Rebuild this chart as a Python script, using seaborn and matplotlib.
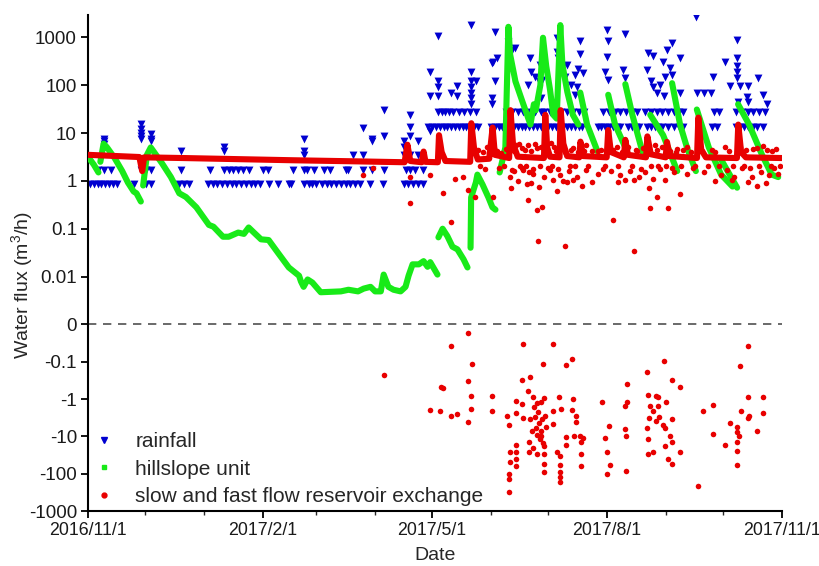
"""Hillslope water fluxes: rainfall, hillslope unit and reservoir exchange."""

import matplotlib
matplotlib.use("Agg")
import matplotlib.dates as mdates
import matplotlib.pyplot as plt
import numpy as np
import pandas as pd
import seaborn as sns
from matplotlib.lines import Line2D
from matplotlib.ticker import FixedLocator, FuncFormatter, NullLocator

START = pd.Timestamp("2016-11-01")
END = pd.Timestamp("2017-11-01")

# days since 2016/11/1 for each rain level that repeats (one tip = 0.85 m3/h)
rain_tip1_days = [1, 3, 5, 7, 9, 11, 13, 15, 24, 30.5, 33, 48, 50.5, 53, 63, 65.5, 68,
                  70.5, 73, 75.5, 78, 80.5, 83, 85.5, 88, 90.5, 95, 100, 105.5, 107,
                  113.5, 116, 118, 120, 123, 125.5, 128, 130.5, 133, 135.5, 138, 140.5,
                  143, 148.5, 155, 166, 168.5, 171, 173.5, 176]
rain_tip2_days = [5.3, 8.4, 12, 28, 30.5, 33, 49, 64, 71.5, 74, 76.5, 79, 81.5, 84.5, 92,
                  94.5, 108, 113.5, 115, 119, 124, 127.5, 135.5, 137, 144.5, 149.5, 155.5,
                  167, 169.5, 172, 176]
rain_tip16_days = [179, 181, 183, 185, 187, 189, 191, 193, 195, 197, 199, 201, 203, 205,
                   212, 214, 216, 218, 220, 222, 224, 226, 228, 230, 232, 234, 236, 238,
                   240, 242, 244, 246, 248, 250, 252, 254, 256, 258, 260, 268, 270, 272,
                   274, 276, 278, 280, 284, 286, 288, 290, 294, 296, 298, 300, 302, 305,
                   308, 311, 313, 328, 331, 341, 343, 345, 347, 350, 352, 355]
rain_tip32_days = [184, 186, 188, 190, 192, 195, 198, 201, 204, 220, 223, 226, 229, 232,
                   235, 238, 240, 243, 246, 249, 252, 255, 258, 261, 271, 274, 277, 280,
                   283, 286, 289, 293, 296, 299, 302, 305, 308, 311, 313, 329, 332, 341,
                   344, 347, 350, 353, 356]
rain_levels = [0.85, 1.7, 13.6, 27.2]

# remaining rainfall intensities (day, m3/h)
rain_storms = [
    (8.4, 7.6), (8.4, 6.8), (8.4, 5.9), (28, 15.3), (28, 11.9), (28, 10.2), (28, 8.5),
    (28, 7.6), (33, 9.4), (33, 7.6), (33, 6.8), (49, 4.25), (71.5, 5.1), (71.5, 4.25),
    (113.5, 7.6), (113.5, 4.25), (113.5, 3.4), (139.5, 3.4), (144.5, 12.75), (144.5, 3.4),
    (149.5, 7.6), (149.5, 6.8), (155.5, 30), (155.5, 8.5), (166, 6.8), (166, 5.1),
    (166, 3.4), (169.5, 24), (169.5, 13.6), (169.5, 8.5), (169.5, 3.4), (173.5, 6.8),
    (173.5, 3.4), (180, 190), (180, 60), (180, 10.9), (184, 1050), (184, 120), (184, 90),
    (184, 58), (190.7, 68), (194.3, 96), (194.3, 60), (201.2, 1800), (201.2, 190),
    (201.2, 120), (201.2, 90), (201.2, 68), (201.2, 55), (201.2, 40), (204, 120),
    (212.7, 290), (212.7, 55), (212.7, 40), (213.2, 300), (214.3, 1300), (215.3, 370),
    (214.3, 120), (221, 800), (223, 550), (224.8, 600), (232.7, 375), (231.6, 100),
    (233, 190), (235, 150), (237, 120), (237.9, 270), (239, 130), (238, 55), (246.8, 980),
    (246.8, 500), (247.4, 375), (250, 250), (251, 150), (252.1, 270), (254, 100),
    (256.3, 165), (257.4, 90), (257.9, 215), (258.9, 830), (258.9, 440), (260.5, 180),
    (256, 63), (272, 190), (273.1, 1440), (273.6, 830), (273.1, 390), (273.6, 130),
    (281.5, 210), (282.6, 1150), (282.6, 140), (294.1, 210), (294.6, 470), (296, 120),
    (297, 90), (297.3, 400), (299, 70), (301, 100), (302.5, 300), (303, 60),
    (303.6, 150), (304.6, 550), (306.2, 230), (307.2, 770), (307.2, 165), (311.4, 375),
    (311.5, 70), (319.7, 2700), (320.2, 70), (323.9, 70), (327.6, 70), (328.8, 150),
    (335.1, 300), (337.7, 95), (341.4, 900), (341.4, 375), (341.4, 250), (341.4, 190),
    (341.4, 140), (343, 95), (341.9, 44), (346.6, 57), (347.2, 95), (347.2, 44),
    (352.4, 140), (355, 63), (357, 40),
]

# hillslope unit: recession segments (day, m3/h)
hill_segments = [
    [(0.5, 3.0), (3, 2.2), (5.5, 1.5)],
    [(6.5, 2.5), (8.2, 6.0), (10, 5.0), (14, 3.0), (18, 1.6), (21, 0.92), (24, 0.6),
     (25.5, 0.55), (27.8, 0.37)],
    [(29, 0.8), (31, 3.5), (33, 5.0), (36, 3.4), (39, 2.3), (43.6, 1.2), (48, 0.55),
     (51.5, 0.46), (57, 0.28), (63.6, 0.12), (66, 0.11), (71, 0.068), (74, 0.068),
     (79, 0.083), (82, 0.078), (84.5, 0.106), (87, 0.085), (91, 0.06), (95, 0.058),
     (100, 0.031), (105.6, 0.0155), (111, 0.0104), (112, 0.0079), (113.4, 0.0061),
     (115.5, 0.0087), (118, 0.0075), (122.4, 0.0047), (133, 0.0049), (137, 0.0053),
     (142, 0.0049), (145, 0.0056), (148.6, 0.0061), (151, 0.0049), (154, 0.0049),
     (155.5, 0.011), (158, 0.0061), (160.7, 0.0053), (164.4, 0.0049), (167, 0.0061),
     (168.6, 0.0104), (170.7, 0.018), (174, 0.018), (176.5, 0.021), (178.6, 0.016),
     (180, 0.02), (183.8, 0.011)],
    [(184.3, 0.066), (186.5, 0.1), (189, 0.07), (191.7, 0.042), (194.3, 0.037),
     (197.5, 0.023), (199.6, 0.0155)],
    [(201.2, 0.04), (201.5, 0.45), (204, 0.93), (204.8, 1.35), (207.5, 0.84),
     (210.6, 0.45), (212.7, 0.28), (214.3, 0.25)],
    [(216.5, 1.5), (219.5, 5), (221.1, 1660), (222, 440), (224.8, 120), (228.5, 45),
     (232.7, 15), (234.5, 40), (235.5, 30), (237.9, 100), (239.3, 980), (241, 250),
     (243, 80), (244.7, 24), (246.5, 20), (248.4, 1800), (249.5, 270), (252.1, 72),
     (255, 24), (257.9, 15)],
    [(258.9, 70), (262.5, 15), (268, 4.1)],
    [(273.6, 63), (277.2, 15), (282.6, 5)],
    [(282.6, 105), (286.3, 24), (292, 3.5)],
    [(295.7, 24), (302.5, 9), (309.9, 1.6)],
    [(307.2, 110), (311.4, 15), (315, 5), (319.7, 1.6)],
    [(320.2, 31), (326.5, 5), (333, 1.35), (339, 0.76)],
    [(332.5, 3.0), (341.4, 0.72)],
    [(341.9, 40), (347.7, 15), (354.5, 3.5), (359.6, 1.35), (363, 1.2)],
]

# reservoir exchange: baseline with event peaks (day, m3/h)
exchange_line = [
    (0, 3.5), (27, 3.15), (28.5, 1.6), (29.5, 3.1), (50, 3.0), (107, 2.7), (143, 2.55),
    (166.5, 2.45), (168, 5.7), (169.5, 2.6), (175.5, 2.45), (176.5, 4.1), (177.5, 2.5),
    (184, 2.45), (184.6, 9), (186, 4), (188, 2.6), (201, 2.5), (201.6, 16), (203, 5),
    (205, 2.8), (211, 2.9), (212.8, 13), (214, 3.5), (221.5, 3.0), (222.2, 30),
    (223.5, 6), (226, 3.2), (239.8, 3.0), (240.5, 24), (241.5, 5), (243, 3.2), (248, 3.1),
    (248.6, 30), (250, 6), (252, 3.3), (258.4, 3.1), (259, 6.6), (260.5, 3.3),
    (272.8, 3.1), (273.6, 11.5), (275, 4), (281.8, 3.1), (282.6, 7.2), (284, 3.5),
    (293.5, 3.1), (294.2, 8.5), (296, 3.6), (303.8, 3.1), (304.5, 6.5), (306, 3.3),
    (320.3, 3.0), (321, 21), (322.5, 4.5), (325, 3.1), (341.3, 3.0), (342, 15),
    (343.5, 4), (346, 3.1), (365, 3.0),
]

# scattered hourly exchange values, positive (day, m3/h)
exchange_pos = [
    (144.4, 1.35), (149.7, 1.9), (169.6, 1.2), (169.6, 0.35), (180, 1.35), (186.5, 0.55),
    (190.7, 0.14), (193, 1.1), (197, 1.2), (200, 0.65), (203.5, 0.45), (213, 0.47),
    (222, 1.2), (222.5, 0.7), (224, 1.6), (226, 1.0), (228, 1.9), (229, 1.7),
    (231, 0.85), (231.6, 0.4), (232, 1.5), (233, 0.9), (234, 1.4), (236.3, 0.25),
    (236.8, 0.055), (237, 0.75), (239, 0.28), (240, 1.2), (243, 1.7), (244.6, 1.05),
    (246.8, 0.6), (248, 1.3), (250, 1.0), (251, 0.043), (252, 0.95), (253, 1.6),
    (255, 1.05), (257, 1.2), (260, 0.8), (262, 1.7), (265.3, 0.95), (268, 1.4),
    (271, 1.8), (275, 1.6), (276.3, 0.15), (278.9, 0.95), (280, 1.3), (282.6, 1.05),
    (285, 1.6), (287.4, 1.05), (287.4, 0.035), (290, 1.2), (293, 1.5), (295.2, 0.72),
    (295.7, 0.27), (297, 1.1), (299.4, 0.46), (301, 1.8), (303.6, 1.05), (305.1, 0.27),
    (308, 1.5), (311.5, 0.53), (315, 1.4), (318, 1.9), (324, 1.5), (329.9, 1.0),
    (333, 1.3), (336, 1.7), (338.8, 1.05), (340, 1.2), (344, 1.9), (347.2, 0.95),
    (349, 1.2), (351.9, 0.8), (354, 1.5), (356.6, 0.9), (358, 1.3), (361, 1.9),
    (363, 1.4), (205, 4.5), (210, 5.0), (215, 4.2), (225, 5.5), (230, 4.5), (235, 6.0),
    (240, 4.5), (245, 5.0), (255, 4.8), (262, 5.5), (268, 4.3), (278, 5.2), (288, 4.5),
    (298, 5.5), (310, 4.6), (315, 5.0), (328, 4.4), (335, 5.2), (350, 4.6), (355, 5.3),
    (360, 4.2), (206, 2.0), (208, 4.0), (209, 1.8), (211, 3.8), (213.5, 4.8), (216, 1.9),
    (217, 3.9), (219, 2.0), (220, 4.6), (223, 1.7), (224, 4.2), (226.5, 5.8), (227, 2.0),
    (228.5, 4.9), (230.5, 2.0), (231.5, 5.5), (233, 4.2), (234, 1.8), (236, 4.8),
    (237.5, 2.0), (238.5, 5.2), (241, 4.0), (242, 1.9), (243.5, 6.2), (244, 2.0),
    (246, 4.3), (247, 1.8), (249, 5.0), (251, 4.1), (253.5, 2.0), (254, 4.5), (256, 2.0),
    (257.5, 4.0), (261, 4.3), (263, 2.0), (265, 4.2), (270, 4.4), (272, 2.0), (276, 4.5),
    (279, 2.0), (281, 4.0), (284, 5.0), (286, 2.0), (289, 4.2), (291, 1.8), (292, 4.8),
    (295, 4.4), (296, 2.0), (299, 4.5), (300, 2.0), (302, 5.2), (304, 2.0), (306, 4.3),
    (307, 1.9), (309, 4.0), (312, 2.0), (313, 4.5), (317, 4.0), (319, 2.0), (323, 4.2),
    (326, 2.0), (330, 4.0), (332, 2.0), (337, 4.2), (339, 2.0), (343, 5.0), (345, 2.0),
    (346, 4.5), (348, 1.9), (352, 4.8), (353, 2.0), (357, 4.4), (359, 2.0), (362, 4.6),
    (364, 2.0),
]

# scattered hourly exchange values, negative (day, m3/h)
exchange_neg = [
    (155.5, -0.23), (185.4, -0.48), (186.5, -0.5), (180.1, -2.0), (184.9, -2.1),
    (190.7, -0.039), (190.7, -2.9), (194.3, -2.5), (200.1, -0.017), (202.2, -0.117),
    (200.1, -0.33), (201.2, -0.84), (201.2, -1.88), (200.1, -4.0), (212.7, -0.84),
    (212.7, -2.1), (220.6, -2.9), (221.6, -5.0), (222.2, -26), (222.2, -49),
    (221.6, -102), (221.6, -139), (221.6, -310), (225.3, -1.15), (225.3, -2.4),
    (225.3, -17), (225.3, -26), (225.3, -41), (225.3, -63), (228.5, -0.3),
    (229, -0.034), (228.5, -1.38), (229, -3.3), (231.6, -0.62), (232.7, -0.25),
    (232.7, -3.5), (232.1, -14), (232.1, -26), (234, -0.9), (234.5, -1.6), (235, -3.0),
    (235.5, -6), (236, -9), (236.5, -2.2), (237, -4.5), (237.5, -12), (238, -1.2),
    (238.5, -7), (239, -3.5), (239.5, -15), (240, -0.95), (240.5, -2.8), (241, -5.5),
    (236, -1.3), (238, -10), (233.5, -7), (234, -20), (236, -30), (239.5, -0.117),
    (240, -18), (240, -30), (240, -55), (240, -90), (244.7, -0.034), (244.7, -2.1),
    (244.7, -4.7), (246.8, -26), (247.9, -0.89), (248.9, -1.8), (248.4, -34),
    (248.4, -58), (248.4, -91), (248.4, -124), (248.4, -169), (251.6, -0.12),
    (251.6, -10.5), (251.6, -17), (254.7, -0.085), (255.3, -1.0), (254.7, -2.0),
    (256.8, -2.9), (256.8, -4.2), (255.8, -9.9), (258.9, -9.9), (260.5, -11),
    (259.5, -14), (259.5, -30), (259.5, -63), (270.5, -1.2), (272, -11), (273.1, -26),
    (274.2, -5.3), (274.7, -60), (273.1, -100), (283.6, -0.4), (283.6, -1.2),
    (282.6, -1.55), (282.6, -6.4), (283.1, -9.9), (283.1, -85), (294.1, -0.19),
    (294.6, -0.8), (295.7, -1.55), (295.2, -3.3), (294.1, -6.0), (294.6, -12),
    (294.6, -30), (297.3, -26), (297.3, -2.1), (298.8, -0.84), (299.9, -0.89),
    (299.9, -1.55), (298.8, -3.9), (300.4, -3.0), (303, -0.096), (304.1, -1.22),
    (302.5, -5.0), (303.6, -6.0), (303.6, -18), (305.1, -41), (307.2, -0.31),
    (307.2, -3.5), (306.2, -9.9), (307.2, -14), (307.2, -55), (311.4, -0.48),
    (311.4, -26), (320.9, -215), (323.5, -2.1), (328.8, -1.45), (328.8, -8.7),
    (335.1, -17), (337.7, -4.4), (341.4, -5.6), (341.4, -7.7), (341.4, -14),
    (341.4, -25), (341.4, -60), (342.4, -9.9), (342.9, -0.13), (343.5, -2.1),
    (347.2, -0.039), (347.2, -0.89), (347.7, -2.9), (347.2, -3.3), (351.9, -7.2),
    (355, -0.89), (355, -2.3),
]

y_ticks = [-1000, -100, -10, -1, -0.1, 0, 0.01, 0.1, 1, 10, 100, 1000]
y_tick_labels = ["-1000", "-100", "-10", "-1", "-0.1", "0", "0.01", "0.1", "1", "10",
                 "100", "1000"]

BLUE = "#0000d0"
GREEN = "#18ea18"
RED = "#e80000"
NEG_DECADE = 0.78  # negative decades are drawn shorter than positive ones


def forward(y):
    y = np.asarray(y, dtype=float)
    with np.errstate(all="ignore"):
        pos = np.log10(np.clip(y, 1e-3, None)) + 3
        neg = -NEG_DECADE * (np.log10(np.clip(-y, 1e-2, None)) + 2)
    return np.where(y >= 0, pos, neg)


def inverse(f):
    f = np.asarray(f, dtype=float)
    with np.errstate(all="ignore"):
        pos = 10 ** (f - 3)
        neg = -(10 ** (np.clip(-f, 0, None) / NEG_DECADE - 2))
    return np.where(f >= 0, pos, neg)


def to_frame(pairs):
    days, flux = zip(*pairs)
    return pd.DataFrame({"date": START + pd.to_timedelta(days, unit="D"), "flux": flux})


def date_label(value, pos):
    d = mdates.num2date(value)
    return f"{d.year}/{d.month}/{d.day}"


rain = to_frame(
    [(d, rain_levels[0]) for d in rain_tip1_days]
    + [(d, rain_levels[1]) for d in rain_tip2_days]
    + [(d, rain_levels[2]) for d in rain_tip16_days]
    + [(d, rain_levels[3]) for d in rain_tip32_days]
    + rain_storms
)
hill = pd.concat(
    [to_frame(seg).assign(seg=i) for i, seg in enumerate(hill_segments)], ignore_index=True
)
line = to_frame(exchange_line)
points = to_frame(exchange_pos + exchange_neg)

sns.set_theme(style="ticks")
plt.rcParams["font.family"] = ["Liberation Sans", "DejaVu Sans"]
plt.rcParams["mathtext.default"] = "regular"

fig = plt.figure(figsize=(8.2, 5.66), dpi=100)
ax = fig.add_axes([88 / 820, 1 - 511 / 566, 694 / 820, 496.5 / 566])

sns.scatterplot(data=rain, x="date", y="flux", marker="v", s=32, color=BLUE,
                linewidth=0, ax=ax, zorder=2)
sns.lineplot(data=hill, x="date", y="flux", units="seg", estimator=None, sort=False,
             color=GREEN, lw=4.4, ax=ax, zorder=3)
sns.lineplot(data=line, x="date", y="flux", estimator=None, sort=False, color=RED,
             lw=4.4, ax=ax, zorder=4)
sns.scatterplot(data=points, x="date", y="flux", marker="o", s=16, color=RED,
                linewidth=0, ax=ax, zorder=4)

ax.axhline(0, color="#505050", lw=1.2, ls=(0, (5, 4)), zorder=1)

ax.set_yscale("function", functions=(forward, inverse))
ax.set_ylim(-1000, 3000)
ax.yaxis.set_major_locator(FixedLocator(y_ticks))
ax.set_yticklabels(y_tick_labels)
ax.yaxis.set_minor_locator(NullLocator())

ax.set_xlim(START, END)
ax.xaxis.set_major_locator(mdates.MonthLocator(bymonth=[2, 5, 8, 11]))
ax.xaxis.set_minor_locator(mdates.MonthLocator())
ax.xaxis.set_major_formatter(FuncFormatter(date_label))

sns.despine(ax=ax)
for side in ("left", "bottom"):
    ax.spines[side].set_linewidth(1.5)
    ax.spines[side].set_color("black")
ax.tick_params(axis="both", which="major", direction="out", length=5, width=1.3,
               labelsize=13.5, colors="black", labelcolor="#1a1a1a", pad=3)
ax.tick_params(axis="x", which="major", labelsize=12.8)
ax.tick_params(axis="x", which="minor", direction="out", length=3, width=1.0)

ax.set_xlabel("Date", fontsize=14)
ax.xaxis.set_label_coords(0.5, -0.072)
ax.set_ylabel("Water flux (m$^3$/h)", fontsize=14)
ax.yaxis.set_label_coords(-0.076, 0.455)

handles = [
    Line2D([], [], ls="", marker="v", color=BLUE, markersize=4),
    Line2D([], [], ls="", marker="s", color=GREEN, markersize=3.5),
    Line2D([], [], ls="", marker="o", color=RED, markersize=3.5),
]
ax.legend(handles, ["rainfall", "hillslope unit", "slow and fast flow reservoir exchange"],
          loc="lower left", bbox_to_anchor=(0.008, 0.01), frameon=False, fontsize=15,
          handlelength=1.0, handletextpad=1.0, labelspacing=0.4, borderpad=0,
          borderaxespad=0)

fig.savefig("out.png", dpi=100)
